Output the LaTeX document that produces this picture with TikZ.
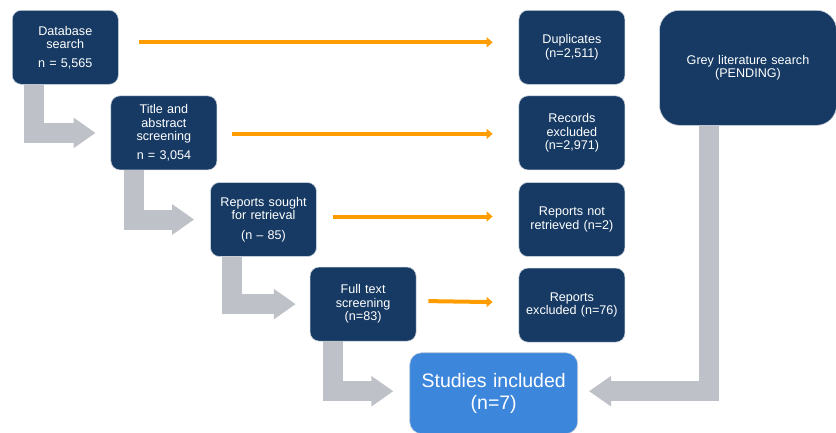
\documentclass[tikz,border=0pt]{standalone}
\usepackage{fontspec}
\setmainfont{Liberation Sans}
\usetikzlibrary{positioning,arrows.meta}
\definecolor{navy}{HTML}{163A63}
\definecolor{skyblue}{HTML}{3C86DB}
\definecolor{arrowgrey}{HTML}{BEC1C7}
\definecolor{amber}{HTML}{FF9C00}

\begin{document}
\begin{tikzpicture}[x=1pt, y=1pt,
  box/.style = {draw=white!75!navy, line width=0.6pt, fill=navy, text=white, rounded corners=9pt,
    minimum width=106pt, minimum height=74pt, text width=102pt, align=center, inner sep=0pt,
    font=\fontsize{12.6}{13.5}\selectfont},
  elbow/.style = {draw=arrowgrey, line width=20pt, -{Triangle[length=22pt,width=29pt]}},
  skip/.style = {draw=amber, line width=4pt, -{Triangle[length=6pt,width=10pt]}}]

\useasboundingbox (0,0) rectangle (836,-432);

% left column, stepping down
\node[box, anchor=north west] (1) at (12,-10) {Database\\ search\\[5pt] n = 5,565};
\node[box] (2) [below right=11pt and -8pt of 1] {Title and\\ abstract\\ screening\\[5pt] n = 3,054};
\node[box] (3) [below right=12pt and -7pt of 2] {Reports sought\\ for retrieval\\[6pt] (n -- 85)};
\node[box] (4) [below right=10pt and -7pt of 3] {Full text\\ screening\\ (n=83)};
\node[box, fill=skyblue, minimum width=168pt, minimum height=81pt, text width=160pt, rounded corners=12pt,
  font=\fontsize{19.5}{22}\selectfont] (5) [below right=11pt and -7pt of 4] {Studies included\\ (n=7)};

% exclusions
\node[box] (6) [right=400pt of 1] {Duplicates\\ (n=2,511)};
\node[box] (7) [below=11pt of 6] {Records\\ excluded\\ (n=2,971)};
\node[box] (8) [below=12pt of 7] {Reports not\\ retrieved (n=2)};
\node[box] (9) [below=11pt of 8] {Reports\\ excluded (n=76)};

\node[box, minimum width=177pt, minimum height=115pt, text width=170pt, rounded corners=20pt]
  (10) [below right=0pt and 34pt of 6.north east] {Grey literature search\\ (PENDING)};

\draw[elbow] ([xshift=22pt]1.south west) |- ([xshift=-15pt]2.west);
\draw[elbow] ([xshift=23pt]2.south west) |- ([xshift=-16pt]3.west);
\draw[elbow] ([xshift=22pt]3.south west) |- ([xshift=-14pt]4.west);
\draw[elbow] ([xshift=23pt]4.south west) |- ([xshift=-16pt,yshift=2pt]5.west);
\draw[elbow] ([xshift=50pt]10.south west) |- ([xshift=11pt,yshift=2pt]5.east);

\draw[skip] ([xshift=20pt,yshift=5pt]1.east) -- ([xshift=-26pt,yshift=5pt]6.west);
\draw[skip] ([xshift=15pt,yshift=-1pt]2.east) -- ([xshift=-26pt,yshift=-1pt]7.west);
\draw[skip] ([xshift=16pt,yshift=3pt]3.east) -- ([xshift=-26pt,yshift=3pt]8.west);
\draw[skip] ([xshift=12pt,yshift=3pt]4.east) -- ([xshift=-26pt,yshift=3pt]9.west);
\end{tikzpicture}
\end{document}
